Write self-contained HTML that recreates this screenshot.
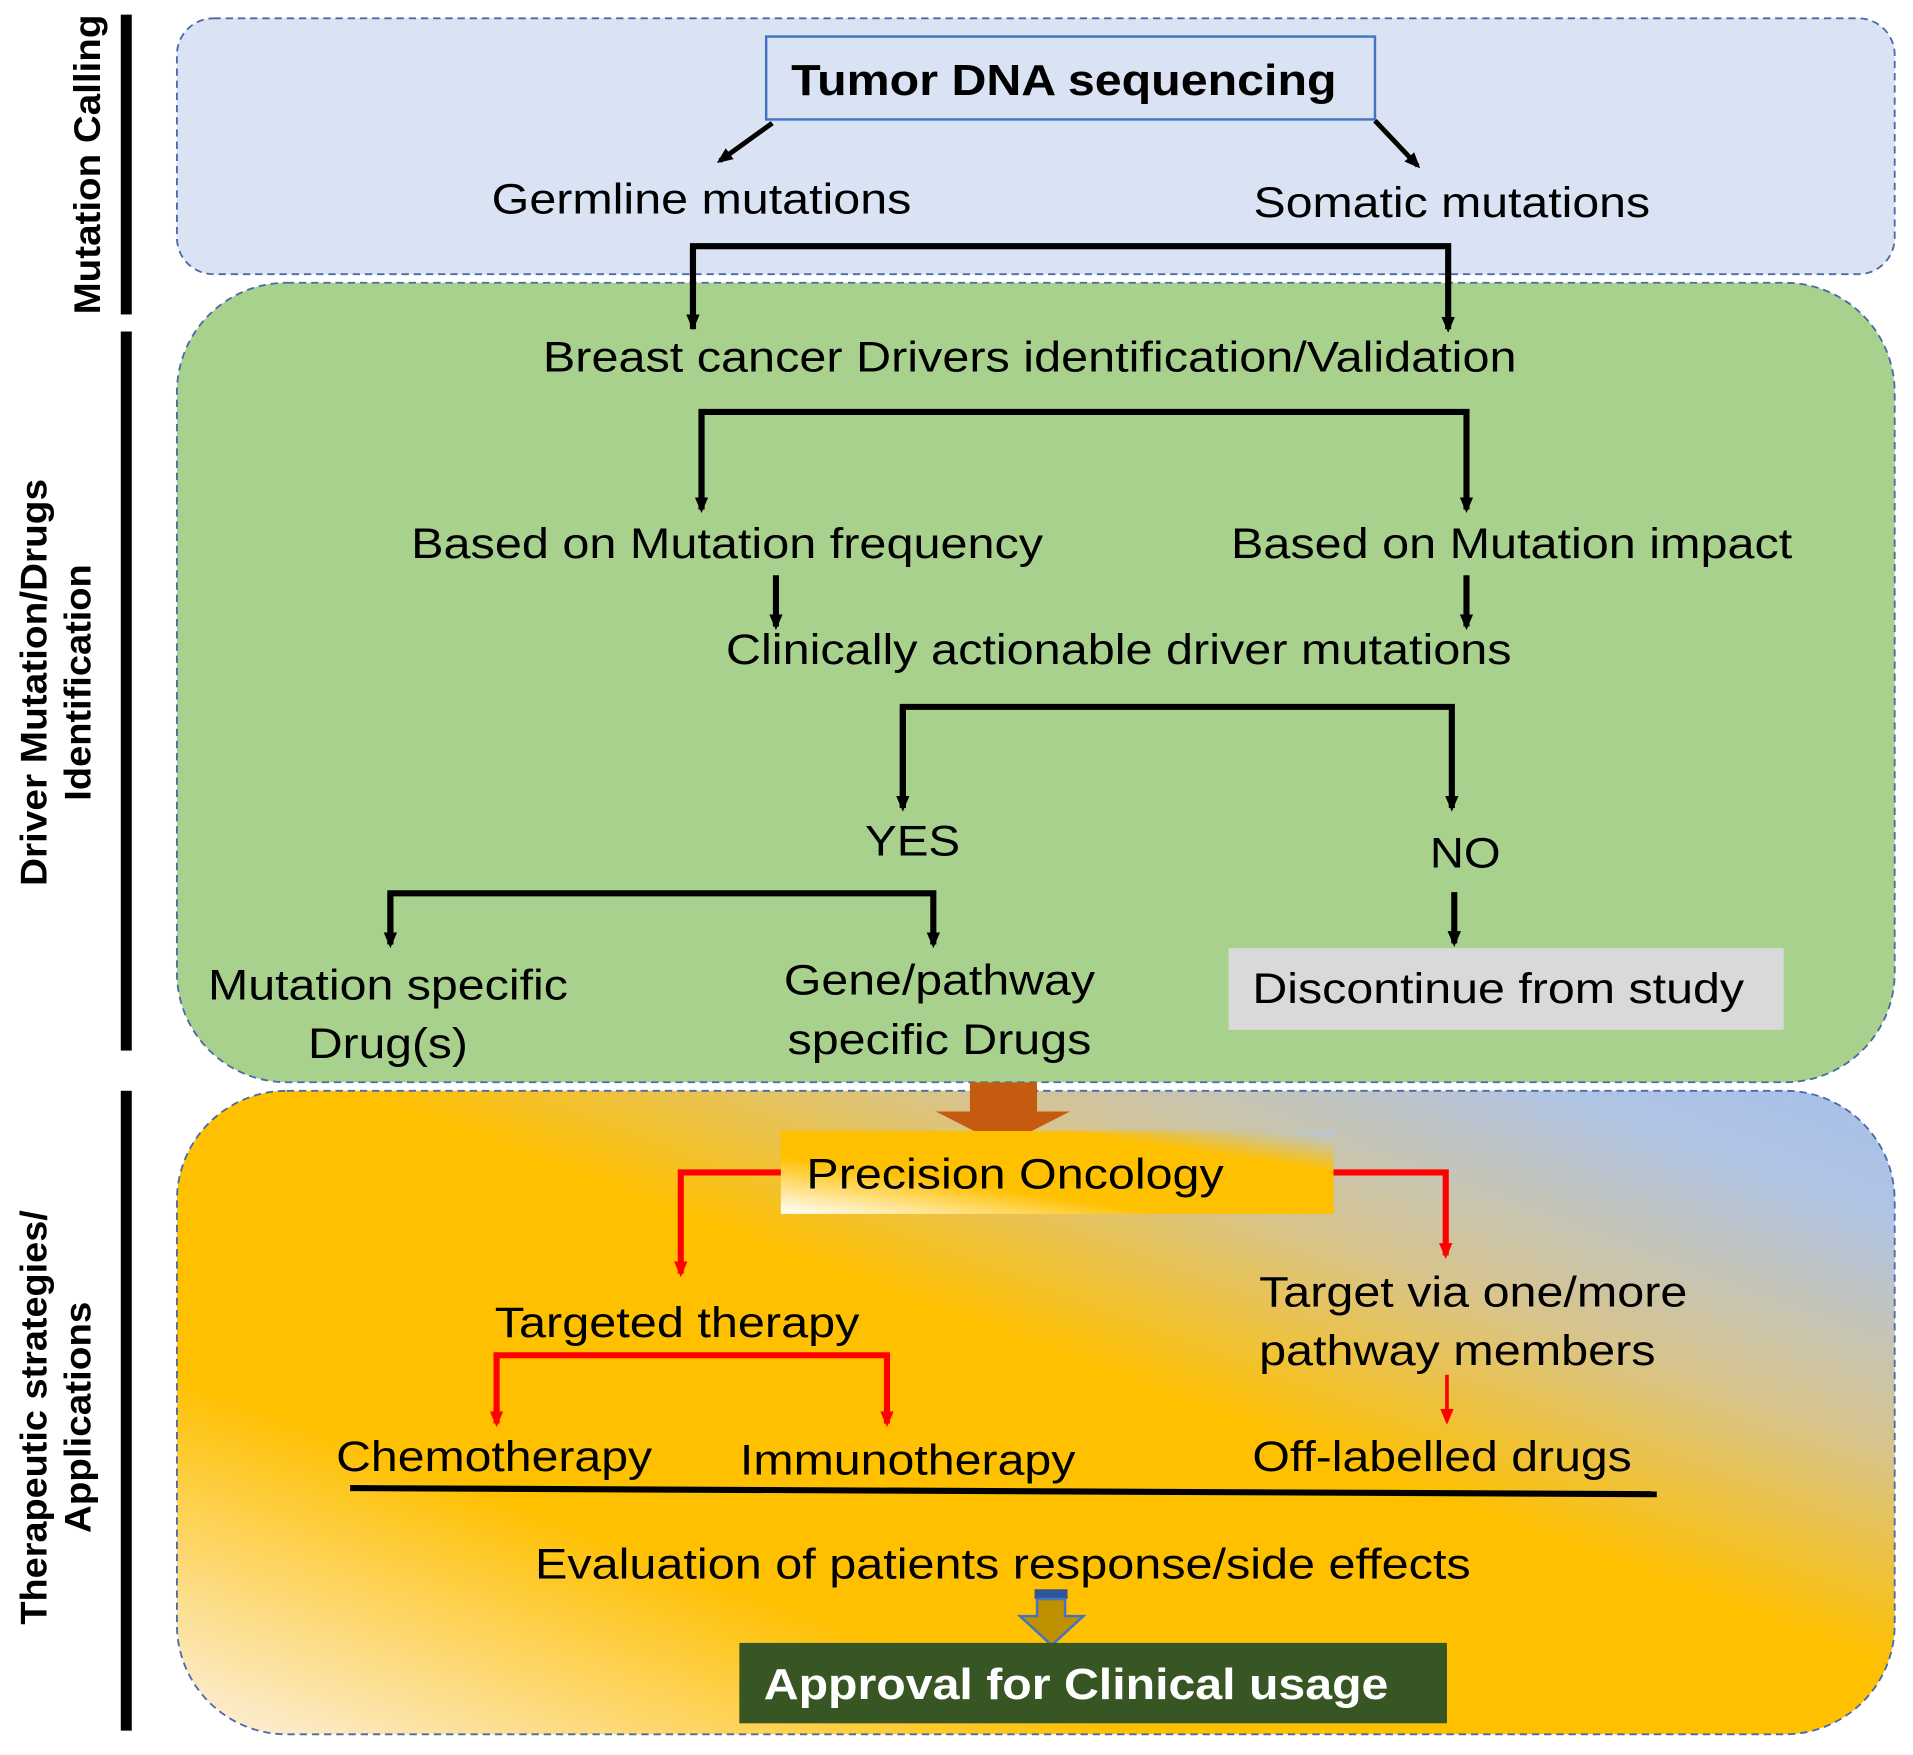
<!DOCTYPE html>
<html><head><meta charset="utf-8"><style>html,body{margin:0;padding:0;background:#fff}svg{display:block}</style></head>
<body>
<svg width="1913" height="1755" viewBox="0 0 1568 1440" preserveAspectRatio="none" xmlns="http://www.w3.org/2000/svg" font-family="Liberation Sans, sans-serif">
<defs>
<marker id="ak" markerWidth="14" markerHeight="14" refX="10" refY="7" orient="auto" markerUnits="userSpaceOnUse"><path d="M0,1.5 L13,7 L0,12.5 z" fill="#000"/></marker>
<marker id="ar" markerWidth="14" markerHeight="14" refX="10" refY="7" orient="auto" markerUnits="userSpaceOnUse"><path d="M0,1.5 L13,7 L0,12.5 z" fill="#f00"/></marker>
<linearGradient id="bg" x1="0" y1="1" x2="1" y2="0">
<stop offset="0" stop-color="#fbf0e2"/><stop offset="0.28" stop-color="#ffc000"/><stop offset="0.55" stop-color="#ffc000"/><stop offset="0.72" stop-color="#d8c48c"/><stop offset="0.9" stop-color="#b0c4e4"/><stop offset="1" stop-color="#a6bfea"/></linearGradient>
<linearGradient id="po" x1="0" y1="1" x2="1" y2="0">
<stop offset="0" stop-color="#fff"/><stop offset="0.35" stop-color="#ffc000"/><stop offset="0.75" stop-color="#ffc000"/><stop offset="1" stop-color="#b4c7e7"/></linearGradient>
</defs>
<rect x="145" y="15" width="1408" height="210" rx="30" fill="#dae3f3" stroke="#4a6aa8" stroke-width="1.5" stroke-dasharray="6,4"/>
<rect x="145" y="232" width="1408" height="656" rx="90" fill="#a9d18e" stroke="#4a6aa8" stroke-width="1.5" stroke-dasharray="6,4"/>
<rect x="145" y="895" width="1408" height="528" rx="90" fill="url(#bg)" stroke="#4a6aa8" stroke-width="1.5" stroke-dasharray="6,4"/>
<g fill="#000"><rect x="99" y="12" width="9" height="246"/><rect x="99" y="272" width="9" height="590"/><rect x="99" y="895" width="9" height="525"/></g>
<g font-weight="bold" font-size="30" text-anchor="middle" lengthAdjust="spacingAndGlyphs">
<text transform="translate(82,135) rotate(-90)" textLength="246" lengthAdjust="spacingAndGlyphs">Mutation Calling</text>
<text transform="translate(38,560) rotate(-90)" textLength="334" lengthAdjust="spacingAndGlyphs">Driver Mutation/Drugs</text>
<text transform="translate(74,560) rotate(-90)" textLength="194" lengthAdjust="spacingAndGlyphs">Identification</text>
<text transform="translate(38,1163) rotate(-90)" textLength="340" lengthAdjust="spacingAndGlyphs">Therapeutic strategies/</text>
<text transform="translate(74,1163) rotate(-90)" textLength="190" lengthAdjust="spacingAndGlyphs">Applications</text>
</g>
<rect x="628" y="30" width="499" height="68" fill="#dae3f3" stroke="#4472c4" stroke-width="2"/>
<text x="872" y="78" font-size="36" font-weight="bold" text-anchor="middle" textLength="447" lengthAdjust="spacingAndGlyphs">Tumor DNA sequencing</text>
<g stroke="#000" stroke-width="4" fill="none" marker-end="url(#ak)">
<line x1="633" y1="101" x2="590" y2="132"/><line x1="1127" y1="99" x2="1162" y2="136"/>
</g>
<g stroke="#000" stroke-width="5" fill="none">
<path d="M568,270 V202 H1187 V270" marker-end="url(#ak)"/><path d="M568,202 V268" marker-end="url(#ak)"/>
<path d="M575,418 V338 H1202 V418" marker-end="url(#ak)"/><path d="M575,338 V418" marker-end="url(#ak)"/>
<path d="M740,663 V580 H1190 V663" marker-end="url(#ak)"/><path d="M740,580 V663" marker-end="url(#ak)"/>
<path d="M320,775 V733 H765 V775" marker-end="url(#ak)"/><path d="M320,733 V775" marker-end="url(#ak)"/>
<line x1="636" y1="472" x2="636" y2="514" marker-end="url(#ak)"/>
<line x1="1202" y1="472" x2="1202" y2="514" marker-end="url(#ak)"/>
<line x1="1192" y1="732" x2="1192" y2="774" marker-end="url(#ak)"/>
</g>
<rect x="1007" y="778" width="455" height="67" fill="#d9d9d9"/>
<g font-size="35" text-anchor="middle" fill="#000">
<text x="575" y="175" textLength="344" lengthAdjust="spacingAndGlyphs">Germline mutations</text>
<text x="1190" y="178" textLength="325" lengthAdjust="spacingAndGlyphs">Somatic mutations</text>
<text x="844" y="305" textLength="798" lengthAdjust="spacingAndGlyphs">Breast cancer Drivers identification/Validation</text>
<text x="596" y="458" textLength="518" lengthAdjust="spacingAndGlyphs">Based on Mutation frequency</text>
<text x="1239" y="458" textLength="460" lengthAdjust="spacingAndGlyphs">Based on Mutation impact</text>
<text x="917" y="545" textLength="644" lengthAdjust="spacingAndGlyphs">Clinically actionable driver mutations</text>
<text x="748" y="702" textLength="78" lengthAdjust="spacingAndGlyphs">YES</text>
<text x="1201" y="712" textLength="58" lengthAdjust="spacingAndGlyphs">NO</text>
<text x="1228" y="823" textLength="403" lengthAdjust="spacingAndGlyphs">Discontinue from study</text>
<text x="318" y="820" textLength="295" lengthAdjust="spacingAndGlyphs">Mutation specific</text>
<text x="318" y="868" textLength="131" lengthAdjust="spacingAndGlyphs">Drug(s)</text>
<text x="770" y="816" textLength="255" lengthAdjust="spacingAndGlyphs">Gene/pathway</text>
<text x="770" y="865" textLength="249" lengthAdjust="spacingAndGlyphs">specific Drugs</text>
</g>
<path d="M795,888 H850 V912 H877 L822,940 L767,912 H795 Z" fill="#c55a11"/>
<rect x="640" y="928" width="453" height="68" fill="url(#po)"/>
<g stroke="#f00" stroke-width="5" fill="none">
<path d="M640,962 H558 V1045" marker-end="url(#ar)"/>
<path d="M1093,962 H1185 V1030" marker-end="url(#ar)"/>
<path d="M407,1168 V1112 H727 V1168" marker-end="url(#ar)"/><path d="M407,1112 V1168" marker-end="url(#ar)"/>
<line x1="1186" y1="1128" x2="1186" y2="1166" stroke-width="3" marker-end="url(#ar)"/>
</g>
<line x1="287" y1="1221" x2="1358" y2="1226" stroke="#000" stroke-width="5"/>
<g font-size="35" text-anchor="middle" fill="#000">
<text x="832" y="975" textLength="342" lengthAdjust="spacingAndGlyphs">Precision Oncology</text>
<text x="555" y="1097" textLength="299" lengthAdjust="spacingAndGlyphs">Targeted therapy</text>
<text x="1032" y="1072" text-anchor="start" textLength="351" lengthAdjust="spacingAndGlyphs">Target via one/more</text>
<text x="1032" y="1120" text-anchor="start" textLength="325" lengthAdjust="spacingAndGlyphs">pathway members</text>
<text x="405" y="1207" textLength="259" lengthAdjust="spacingAndGlyphs">Chemotherapy</text>
<text x="744" y="1210" textLength="275" lengthAdjust="spacingAndGlyphs">Immunotherapy</text>
<text x="1182" y="1207" textLength="311" lengthAdjust="spacingAndGlyphs">Off-labelled drugs</text>
<text x="822" y="1295" textLength="767" lengthAdjust="spacingAndGlyphs">Evaluation of patients response/side effects</text>
</g>
<rect x="848" y="1304" width="27" height="8" fill="#2f5597"/>
<path d="M850,1312 H873 V1326 H888 L862,1350 L836,1326 H850 Z" fill="#bf9000" stroke="#4472c4" stroke-width="2"/>
<rect x="606" y="1348" width="580" height="66" fill="#375623"/>
<text x="882" y="1394" font-size="36" font-weight="bold" fill="#fff" text-anchor="middle" textLength="512" lengthAdjust="spacingAndGlyphs">Approval for Clinical usage</text>
</svg>
</body></html>
